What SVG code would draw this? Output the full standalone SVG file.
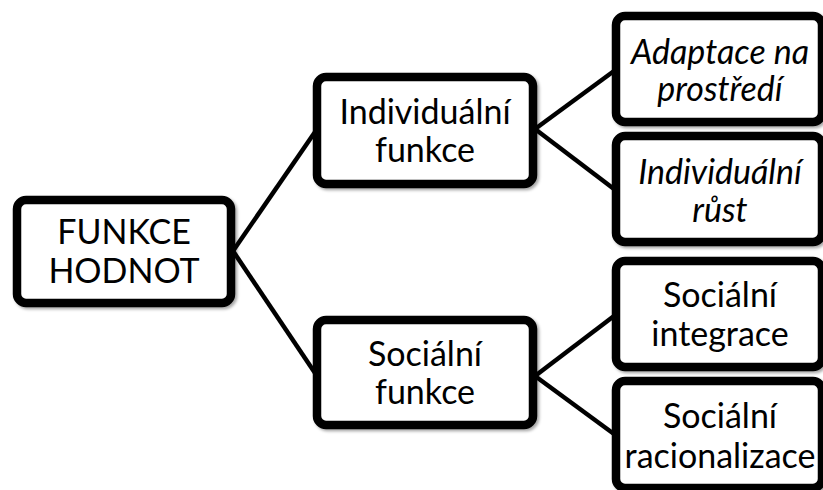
<svg xmlns="http://www.w3.org/2000/svg" width="823" height="490" viewBox="0 0 823 490">
  <defs>
    <filter id="sh" x="-10%" y="-10%" width="125%" height="125%">
      <feDropShadow dx="2" dy="2" stdDeviation="1.5" flood-color="#000" flood-opacity="0.35"/>
    </filter>
    <style>
      .box { fill: #fff; stroke: #000; stroke-width: 8.5; filter: url(#sh); }
      .lbl { font-family: Lato, "Liberation Sans", sans-serif; font-size: 34px; fill: #000; text-anchor: middle; }
      .it { font-style: italic; }
      .con { stroke: #000; stroke-width: 4.5; fill: none; }
    </style>
  </defs>
  <rect width="823" height="490" fill="#fff"/>
  <g id="connectors">
    <line class="con" x1="233" y1="251" x2="315" y2="132"/>
    <line class="con" x1="233" y1="251" x2="315" y2="373"/>
    <line class="con" x1="535" y1="129" x2="614" y2="71"/>
    <line class="con" x1="535" y1="129" x2="614" y2="189"/>
    <line class="con" x1="535" y1="376" x2="614" y2="316"/>
    <line class="con" x1="535" y1="376" x2="614" y2="434"/>
  </g>
  <g id="root">
    <rect class="box" x="17" y="200" width="214" height="103" rx="9"/>
    <text class="lbl" x="124" y="244">FUNKCE</text>
    <text class="lbl" x="124" y="283">HODNOT</text>
  </g>
  <g id="individualni-funkce">
    <rect class="box" x="317" y="77" width="216" height="107" rx="9"/>
    <text class="lbl" x="425" y="124">Individuální</text>
    <text class="lbl" x="425" y="162">funkce</text>
  </g>
  <g id="socialni-funkce">
    <rect class="box" x="317" y="320" width="216" height="105" rx="9"/>
    <text class="lbl" x="425" y="366">Sociální</text>
    <text class="lbl" x="425" y="404">funkce</text>
  </g>
  <g id="adaptace">
    <rect class="box" x="616" y="16" width="206" height="106" rx="9"/>
    <text class="lbl it" x="720" y="64">Adaptace na</text>
    <text class="lbl it" x="720" y="101">prostředí</text>
  </g>
  <g id="individualni-rust">
    <rect class="box" x="616" y="136" width="206" height="106" rx="9"/>
    <text class="lbl it" x="720" y="184">Individuální</text>
    <text class="lbl it" x="720" y="222">růst</text>
  </g>
  <g id="socialni-integrace">
    <rect class="box" x="616" y="261" width="206" height="106" rx="9"/>
    <text class="lbl" x="720" y="307">Sociální</text>
    <text class="lbl" x="720" y="346">integrace</text>
  </g>
  <g id="socialni-racionalizace">
    <rect class="box" x="616" y="381" width="206" height="107" rx="9"/>
    <text class="lbl" x="720" y="428">Sociální</text>
    <text class="lbl" x="720" y="468">racionalizace</text>
  </g>
</svg>
